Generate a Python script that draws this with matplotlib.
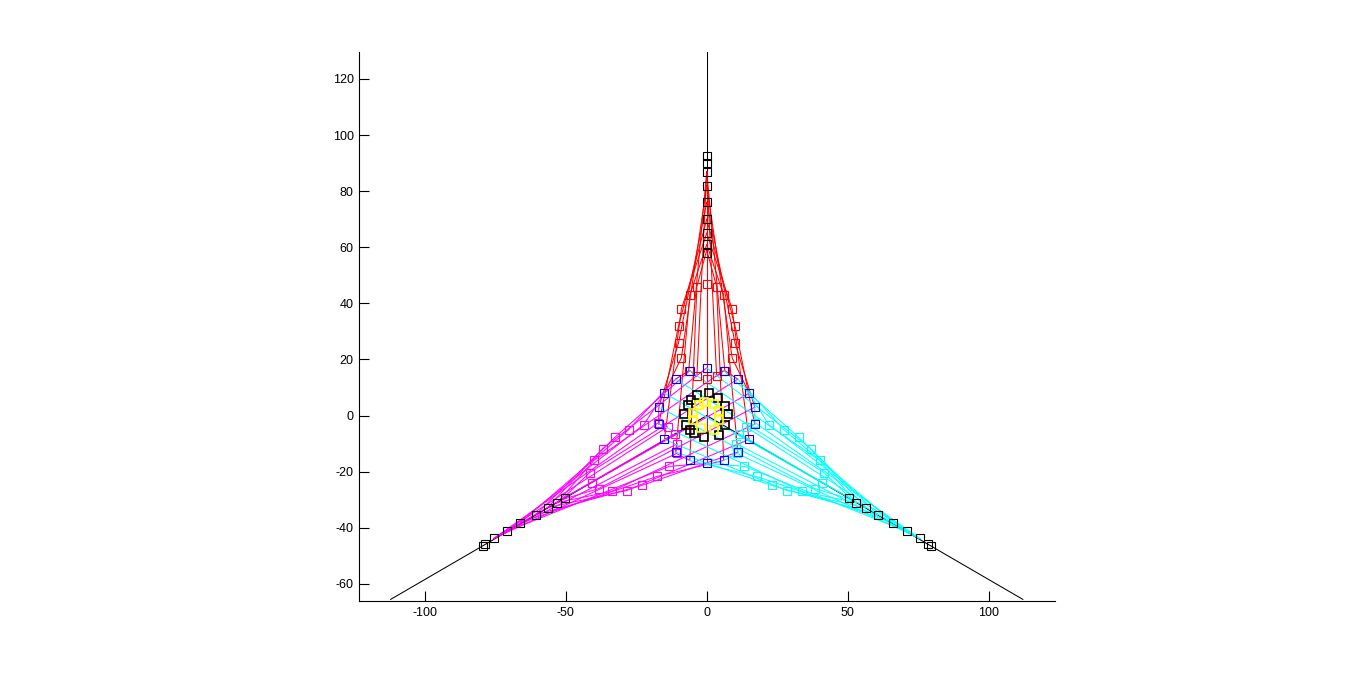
import numpy as np
from matplotlib import pyplot as plt

plt.rcParams['font.family'] = ['Liberation Sans', 'DejaVu Sans']
plt.rcParams['axes.unicode_minus'] = False

# black spokes running out to the axes edge
spoke_x = [[0, 0], [0, -112], [0, 112]]
spoke_y = [[0, 130], [0, -65.5], [0, -65.5]]

# red lobe: start on the blue ring, node on the lobe circle, end on the black stack
red_start_x = [0, -6, -11, -15, -17, -17, -15, -11, -6, 0, 6, 11, 15, 17, 17, 15, 11, 6]
red_start_y = [-17, -16, -13, -8.5, -3, 3, 8, 13, 16, 17, 16, 13, 8, 3, -3, -8.5, -13, -16]
red_mid_x = [0, -3.5, -6, -9, -10, -10, -9, -6.4, -3.5, 0, 3.5, 6.4, 9, 10, 10, 9, 6, 3.5]
red_mid_y = [47, 46, 43, 38, 32, 26, 20.6, 16, 14, 13, 14, 16, 20.6, 26, 32, 38, 43, 46]
red_end_x = [0] * 18
red_end_y = [58, 59, 61, 65, 70, 76, 82, 87, 87, 87, 87, 87, 82, 76, 70, 65, 61, 59]

# magenta lobe
mag_start_x = [15, 17, 17, 15, 11, 6, 0, -6, -11, -15, -17, -17, -15, -11, -6, 0, 6, 11]
mag_start_y = [8, 3, -3, -8.5, -13, -16, -17, -16, -13, -8.5, -3, 3, 8, 13, 16, 17, 16, 13]
mag_mid_x = [-40.8, -38.3, -33.7, -28.4, -23, -17.7, -13.3, -10.7, -10.4, -11.3, -13.9, -17.1, -22.3, -27.7, -32.6, -36.9, -40, -41.5]
mag_mid_y = [-23.9, -26, -27, -26.7, -24.9, -21.7, -18.1, -13.5, -10, -6.5, -4, -2.5, -3.2, -5, -7.8, -11.8, -16, -20.3]
mag_end_x = [-50.4, -51.5, -53, -56.4, -60.6, -66, -70.9, -75.5, -75.5, -75.5, -75.5, -75.5, -70.9, -66, -60.6, -56.4, -53, -51.5]
mag_end_y = [-29.2, -30, -31, -32.8, -35.3, -38.1, -41.3, -43.8, -43.8, -43.8, -43.8, -43.8, -41.3, -38.1, -35.3, -32.8, -31, -30]

# cyan lobe
cy_start_x = [-15, -17, -17, -15, -11, -6, 0, 6, 11, 15, 17, 17, 15, 11, 6, 0, -6, -11]
cy_start_y = [8, 3, -3, -8.5, -13, -16, -17, -16, -13, -8.5, -3, 3, 8, 13, 16, 17, 16, 13]
cy_mid_x = [40.8, 38.3, 33.7, 28.4, 23, 17.7, 13.3, 10.7, 10.4, 11.3, 13.9, 17.1, 22, 27.3, 32.6, 36.9, 40, 41.5]
cy_mid_y = [-23.9, -26, -27, -26.7, -24.9, -21.7, -18.1, -13.5, -10, -6.5, -4, -2.5, -3.2, -5, -7.8, -11.8, -16, -20.3]
cy_end_x = [50.4, 51.5, 53, 56.4, 60.6, 66, 70.9, 75.5, 75.5, 75.5, 75.5, 75.5, 70.9, 66, 60.6, 56.4, 53, 51.5]
cy_end_y = [-29.2, -30, -31, -32.8, -35.3, -38.1, -41.3, -43.8, -43.8, -43.8, -43.8, -43.8, -41.3, -38.1, -35.3, -32.8, -31, -30]

# outer tips, black squares
top_x = [0, 0, 0, 0, 0, 0, 0, 0, 0]
top_y = [92.5, 90, 87, 82, 76, 70, 65, 61, 58]
left_x = [-79.4, -78.4, -75.5, -70.9, -66, -60.6, -56.4, -53, -50.4]
left_y = [-46.3, -45.6, -43.8, -41.3, -38.1, -35.3, -32.8, -31, -29.2]
right_x = [79.4, 78.4, 75.5, 70.9, 66, 60.6, 56.4, 53, 50.4]
right_y = [-46.3, -45.6, -43.8, -41.3, -38.1, -35.3, -32.8, -31, -29.2]

# rings around the centre
ring_x = [-3.5, 0.7, 4.1, 6.6, 7.4, 6.6, 4.3, -0.8, -4.4, -6.1, -7.3, -7.9, -6.7, -5.6]
ring_y = [7.5, 8, 6.3, 3.3, 0.4, -3.2, -6.8, -7.6, -6.2, -5, -3.2, 0.4, 3.9, 5.7]
yel_x = [-5, -2.8, -0.8, 2.4, 4.5, 4.5, 2.4, -2, -5]
yel_y = [1, 3.9, 5, 4.2, 1.5, -1.4, -5, -4.4, -1.4]
blue_x = [0, 6, 11, 15, 17, 17, 15, 11, 6, 0, -6, -11, -15, -17, -17, -15, -11, -6]
blue_y = [17, 16, 13, 8, 3, -3, -8.5, -13, -16, -17, -16, -13, -8.5, -3, 3, 8, 13, 16]

xticks = [-100, -50, 0, 50, 100]
yticks = [-60, -40, -20, 0, 20, 40, 60, 80, 100, 120]

RED = '#ff0000'
MAG = '#ff00ff'
CYAN = '#00ffff'
BLUE = '#0000ff'
YEL = '#ffff00'


def squares(ax, x, y, color, mew=0.8):
    ax.plot(x, y, 's', mfc='none', mec=color, ms=6.3, mew=mew, zorder=3)


def draw_rays(ax, sx, sy, mx, my, ex, ey, color):
    for i in range(len(sx)):
        ax.plot([sx[i], mx[i], ex[i]], [sy[i], my[i], ey[i]], color=color, lw=0.75)
    squares(ax, mx, my, color)


fig = plt.figure(figsize=(13.66, 6.74), dpi=100)
ax = fig.add_axes([358.5/1366, (674-600.5)/674, (1055-358.5)/1366, (600.5-52)/674])

for sx, sy in zip(spoke_x, spoke_y):
    ax.plot(sx, sy, color='k', lw=0.75)

draw_rays(ax, red_start_x, red_start_y, red_mid_x, red_mid_y, red_end_x, red_end_y, RED)
draw_rays(ax, mag_start_x, mag_start_y, mag_mid_x, mag_mid_y, mag_end_x, mag_end_y, MAG)
draw_rays(ax, cy_start_x, cy_start_y, cy_mid_x, cy_mid_y, cy_end_x, cy_end_y, CYAN)

squares(ax, blue_x, blue_y, BLUE)
squares(ax, ring_x, ring_y, 'k', mew=1.2)
squares(ax, yel_x, yel_y, YEL, mew=1.2)
for px, py in [(top_x, top_y), (left_x, left_y), (right_x, right_y)]:
    squares(ax, px, py, 'k')

ax.set_xlim(-123.4, 123.4)
ax.set_ylim(-65.9, 129.6)
ax.set_xticks(xticks)
ax.set_yticks(yticks)
ax.spines['top'].set_visible(False)
ax.spines['right'].set_visible(False)
ax.spines['left'].set_linewidth(0.8)
ax.spines['bottom'].set_linewidth(0.8)
ax.tick_params(direction='in', length=7, width=0.8, labelsize=9, pad=3.5)
ax.tick_params(axis='x', pad=5)

fig.savefig('out.png', dpi=100)
